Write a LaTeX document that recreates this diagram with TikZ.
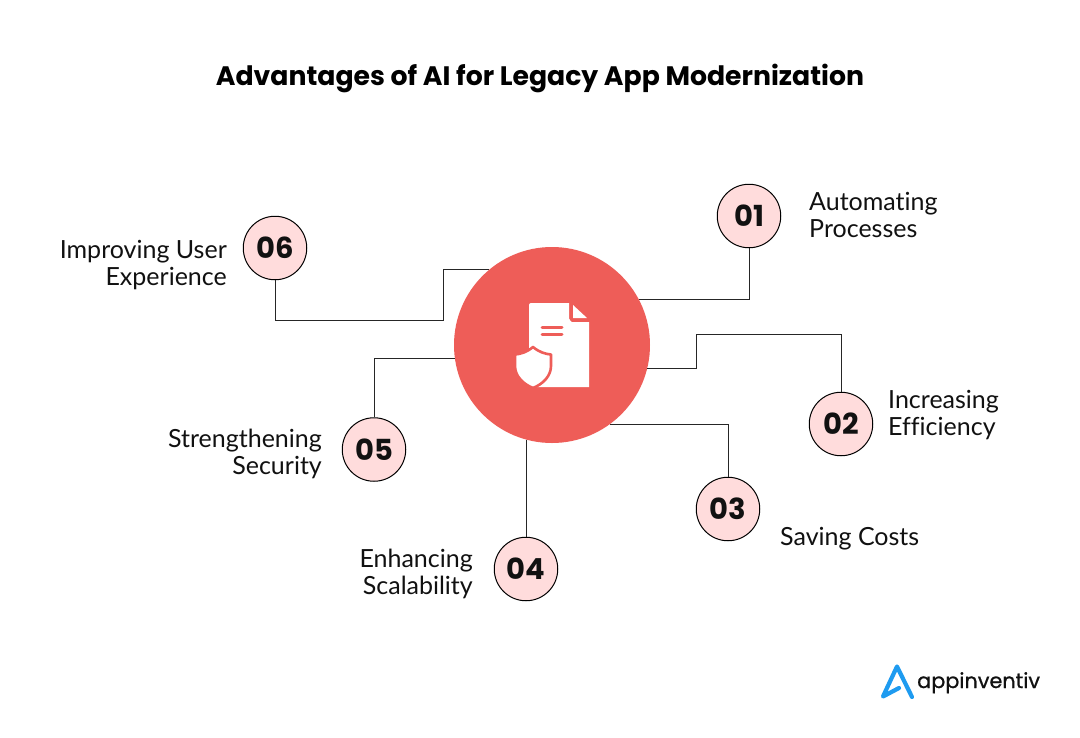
\documentclass[tikz,border=0pt]{standalone}
\usepackage{fontspec}
\setmainfont[Ligatures=CommonOff]{Lato}
\newfontfamily\titlefont{Poppins}
\newfontfamily\numfont{Poppins}
\newfontfamily\logofont[FakeBold=0.8]{Poppins}
\usetikzlibrary{calc}
\definecolor{hubred}{HTML}{EE5D58}
\definecolor{pinkfill}{HTML}{FFDCDC}
\definecolor{logoblue}{HTML}{1E9BF0}
\definecolor{inkc}{HTML}{111111}
\tikzset{
  x=1pt,y=-1pt,
  numnode/.style={circle,draw=black,line width=1pt,fill=pinkfill,minimum size=63.5pt,inner sep=0pt,font=\numfont\bfseries\fontsize{29}{29}\selectfont,text=inkc},
  lab/.style={font=\fontsize{25}{27}\selectfont,text=inkc,inner sep=0pt},
  labl/.style={lab,align=left,anchor=west},
  labr/.style={lab,align=right,anchor=east},
  conn/.style={draw=black!85,line width=0.8pt},
}
\begin{document}
\begin{tikzpicture}
\useasboundingbox (0,0) rectangle (1080,737);
\fill[white] (0,0) rectangle (1080,737);
\node[inner sep=0pt,font=\titlefont\bfseries\fontsize{26.7}{30}\selectfont,text=black] (title) at (540,78) {Advantages of AI for Legacy App Modernization};
\node[circle,fill=hubred,minimum size=196pt,inner sep=0pt] (hub) at (552,345) {};
\node[numnode] (n1) at (749,216) {01};
\node[numnode] (n2) at (841,424) {02};
\node[numnode] (n3) at (728,509) {03};
\node[numnode] (n4) at (526,569) {04};
\node[numnode] (n5) at (374,449.5) {05};
\node[numnode] (n6) at (275,248) {06};
\node[labl] (l1) at (809,215) {Automating\\Processes};
\node[labl] (l2) at (888,415) {Increasing\\Efficiency};
\node[labl] (l3) at (780,539) {Saving Costs};
\node[labr] (l4) at (473,574) {Enhancing\\Scalability};
\node[labr] (l5) at (322,454) {Strengthening\\Security};
\node[labr] (l6) at (227,265) {Improving User\\Experience};
\coordinate (b2a) at (696,334);
\coordinate (b2b) at (696,368);
\coordinate (b6a) at (443,320);
\coordinate (b6b) at (443,269);
\draw[conn] (n1.south) |- (hub.28);
\draw[conn] (n2.north) |- (b2a) -- (b2b) -- (b2b -| hub.14);
\draw[conn] (n3.north) |- (hub.-54);
\draw[conn] (n4.north) -- (n4.north |- hub.-105);
\draw[conn] (n5.north) |- (hub.188);
\draw[conn] (n6.south) |- (b6a) -- (b6b) -- (b6b -| hub.130);
% document icon
\fill[white] (531,303) -- (569,303) -- (569,319) to[out=90,in=180] (572,322) -- (589,322) -- (589,387) -- (531,387) to[out=180,in=90] (529,385) -- (529,305) to[out=90,in=180] (531,303) -- cycle;
\fill[white] (573,305) -- (587,318) -- (573,318) -- cycle;
\draw[hubred,line width=3pt,line cap=round] (542,327.5) -- (562,327.5);
\draw[hubred,line width=3pt,line cap=round] (542,334.5) -- (562,334.5);
\draw[hubred,line width=2.6pt,fill=white,line join=round] (533,347) .. controls (527,352) and (521,354) .. (515,354.5) -- (515,366) .. controls (515,376) and (523,384) .. (533,388) .. controls (543,384) and (551,376) .. (551,366) -- (551,354.5) .. controls (545,354) and (539,352) .. (533,347) -- cycle;
% logo
\draw[logoblue,line width=4.2pt,line cap=round,line join=round] (899,688) -- (883,696.5) -- (897,666.5) -- (912,697);
\node[inner sep=0pt,anchor=base west,font=\logofont\fontsize{20.8}{24}\selectfont,text=inkc] (logo) at (917,688) {appinventiv};
\end{tikzpicture}
\end{document}
